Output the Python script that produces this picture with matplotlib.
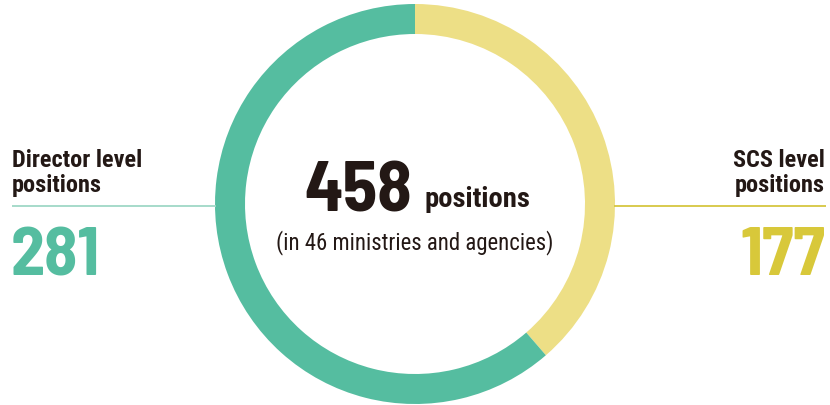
import matplotlib
matplotlib.use("Agg")
import matplotlib.pyplot as plt
from matplotlib import font_manager

categories = ["SCS level positions", "Director level positions"]
values = [177, 281]
total_label = "458"
sub_label = "(in 46 ministries and agencies)"

GREEN = "#55BDA0"
YELLOW = "#EDDF86"
GREEN_LINE = "#9FD8C6"
YELLOW_LINE = "#D6C640"
YELLOW_TEXT = "#D8C83A"
DARK = "#231815"

names = {f.name for f in font_manager.fontManager.ttflist}

def pick(cands, default="Liberation Sans"):
    for c in cands:
        if c in names:
            return c
    return default

TXT = pick(["Roboto Condensed", "Archivo Narrow", "Barlow Semi Condensed", "Liberation Sans Narrow"])
NUM = pick(["Barlow Semi Condensed", "Roboto Condensed", "Archivo Narrow", "Barlow Condensed"])

W, H = 830, 406
fig = plt.figure(figsize=(W / 100, H / 100), dpi=100)
ax = fig.add_axes([0, 0, 1, 1])

def Y(y):
    return H - y

ax.pie(values, colors=[YELLOW, GREEN], startangle=90, counterclock=False,
       center=(415, Y(205)), radius=200,
       wedgeprops=dict(width=30, edgecolor="none"))
ax.set_xlim(0, W)
ax.set_ylim(0, H)
ax.set_aspect("equal")
ax.axis("off")

# connector lines
ax.plot([12, 216], [Y(207), Y(207)], color=GREEN_LINE, lw=1.3, solid_capstyle="butt")
ax.plot([614, 826], [Y(207), Y(207)], color=YELLOW_LINE, lw=1.3, solid_capstyle="butt")

# left labels
ax.text(12, Y(192), "Director level\npositions", ha="left", va="baseline",
        fontsize=17.5, fontweight="bold", family=TXT, color=DARK, linespacing=1.1)
ax.text(11, Y(275), str(values[1]), ha="left", va="baseline",
        fontsize=49, fontweight="bold", family=NUM, color=GREEN)

# right labels
ax.text(825, Y(192), "SCS level\npositions", ha="right", va="baseline",
        fontsize=17.5, fontweight="bold", family=TXT, color=DARK, linespacing=1.1,
        multialignment="right")
ax.text(825, Y(275), str(values[0]), ha="right", va="baseline",
        fontsize=50, fontweight="bold", family=NUM, color=YELLOW_TEXT)

# center
ax.text(412, Y(212), total_label, ha="right", va="baseline",
        fontsize=51, fontweight="bold", family=NUM, color=DARK)
ax.text(424, Y(207), "positions", ha="left", va="baseline",
        fontsize=20.5, fontweight="bold", family=TXT, color=DARK)
ax.text(415, Y(249), sub_label, ha="center", va="baseline",
        fontsize=16.4, family=TXT, color=DARK)

fig.savefig("out.png", dpi=100)
